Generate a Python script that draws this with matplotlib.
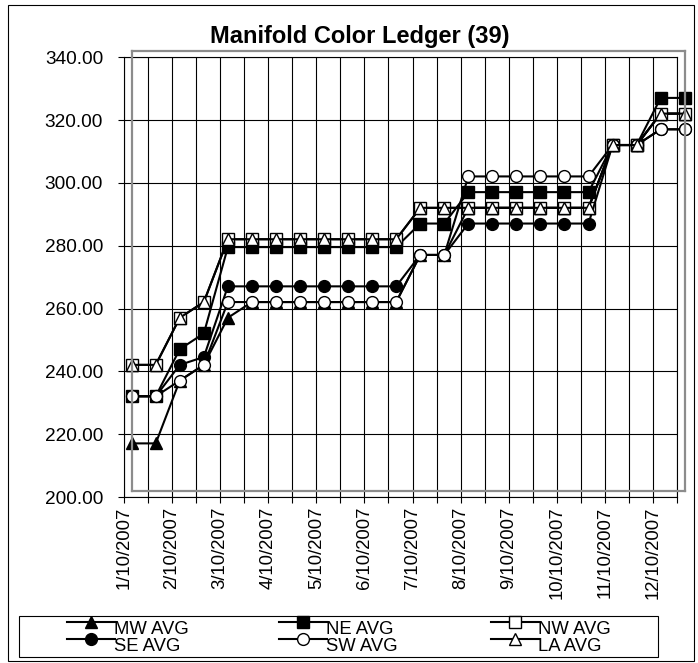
import matplotlib.pyplot as plt
from matplotlib.lines import Line2D
from matplotlib.patches import Rectangle

plt.rcParams['font.family'] = ['Liberation Sans', 'DejaVu Sans']

# categories (two per month, every other one is labelled)
dates = ['1/10/2007', '1/25/2007', '2/10/2007', '2/25/2007', '3/10/2007', '3/25/2007',
         '4/10/2007', '4/25/2007', '5/10/2007', '5/25/2007', '6/10/2007', '6/25/2007',
         '7/10/2007', '7/25/2007', '8/10/2007', '8/25/2007', '9/10/2007', '9/25/2007',
         '10/10/2007', '10/25/2007', '11/10/2007', '11/25/2007', '12/10/2007', '12/25/2007']

mw_avg = [215, 215, 235, 240, 255, 260, 260, 260, 260, 260, 260, 260,
          275, 275, 290, 290, 290, 290, 290, 290, 310, 310, 320, 320]
ne_avg = [230, 230, 245, 250, 277.5, 277.5, 277.5, 277.5, 277.5, 277.5, 277.5, 277.5,
          285, 285, 295, 295, 295, 295, 295, 295, 310, 310, 325, 325]
nw_avg = [240, 240, 255, 260, 280, 280, 280, 280, 280, 280, 280, 280,
          290, 290, 290, 290, 290, 290, 290, 290, 310, 310, 320, 320]
se_avg = [230, 230, 240, 242.5, 265, 265, 265, 265, 265, 265, 265, 265,
          275, 275, 285, 285, 285, 285, 285, 285, 310, 310, 315, 315]
sw_avg = [230, 230, 235, 240, 260, 260, 260, 260, 260, 260, 260, 260,
          275, 275, 300, 300, 300, 300, 300, 300, 310, 310, 315, 315]
la_avg = [240, 240, 255, 260, 280, 280, 280, 280, 280, 280, 280, 280,
          290, 290, 290, 290, 290, 290, 290, 290, 310, 310, 320, 320]

series = [
    ('MW AVG', mw_avg, '^', 'black'),
    ('NE AVG', ne_avg, 's', 'black'),
    ('NW AVG', nw_avg, 's', 'white'),
    ('SE AVG', se_avg, 'o', 'black'),
    ('SW AVG', sw_avg, 'o', 'white'),
    ('LA AVG', la_avg, '^', 'white'),
]

W, H = 698, 663
fig = plt.figure(figsize=(W / 100, H / 100), dpi=100)

# axis with grid and labels
left, bottom = 124 / W, (H - 497) / H
width, height = 553 / W, 439.7 / H
ax = fig.add_axes([left, bottom, width, height])
x = list(range(len(dates)))
ax.set_xlim(0, len(dates) - 1)
ax.set_ylim(200, 340)
ax.set_yticks(range(200, 341, 20))
ax.set_yticklabels(['%.2f' % v for v in range(200, 341, 20)], fontsize=13.7)
ax.set_xticks(x)
ax.set_xticklabels([d if i % 2 == 0 else '' for i, d in enumerate(dates)],
                   rotation=90, fontsize=13.3)
ax.grid(True, color='black', linewidth=0.8)
ax.tick_params(axis='y', length=4, width=0.8, pad=11)
ax.tick_params(axis='x', length=4, width=0.8, pad=3)
for s in ax.spines.values():
    s.set_linewidth(0.8)

# plot area drawn slightly offset, as in the original
ax2 = fig.add_axes([left + 7.7 / W, bottom + 6.5 / H, width, height])
ax2.patch.set_alpha(0)
ax2.set_xlim(0, len(dates) - 1)
ax2.set_ylim(200, 340)
ax2.set_xticks([])
ax2.set_yticks([])
for s in ax2.spines.values():
    s.set_color('#8c8c8c')
    s.set_linewidth(1.6)

style = dict(color='black', linewidth=1.5, markersize=8.5,
             markeredgecolor='black', markeredgewidth=1.0)
for name, vals, mk, fc in series:
    ax2.plot(x, vals, marker=mk, markerfacecolor=fc, clip_on=False, label=name, **style)

fig.text(360 / W, 1 - 37 / H, 'Manifold Color Ledger (39)', ha='center', va='center',
         fontsize=17, fontweight='bold')

# legend drawn by hand: line with marker, text sits a bit lower (like Excel)
col_x = [67, 279, 491]
row_y = [621.5, 638.5]
for i, (name, vals, mk, fc) in enumerate(series):
    cx = col_x[i % 3]
    ry = row_y[i // 3]
    fig.add_artist(Line2D([cx / W, (cx + 48) / W], [1 - ry / H, 1 - ry / H],
                          transform=fig.transFigure, color='black', linewidth=1.5))
    fig.add_artist(Line2D([(cx + 24) / W], [1 - ry / H], transform=fig.transFigure,
                          marker=mk, markerfacecolor=fc, linestyle='none',
                          markersize=8.5, markeredgecolor='black', markeredgewidth=1.0))
    fig.text((cx + 47) / W, 1 - (ry + 8) / H, name, ha='left', va='center', fontsize=13.3)

fig.patches.append(Rectangle((19 / W, (H - 657) / H), 639 / W, 41 / H, transform=fig.transFigure,
                             fill=False, edgecolor='black', linewidth=0.8))
fig.patches.append(Rectangle((8 / W, 2 / H), 686 / W, 656 / H, transform=fig.transFigure,
                             fill=False, edgecolor='black', linewidth=0.8))

plt.savefig('out.png', dpi=100)
